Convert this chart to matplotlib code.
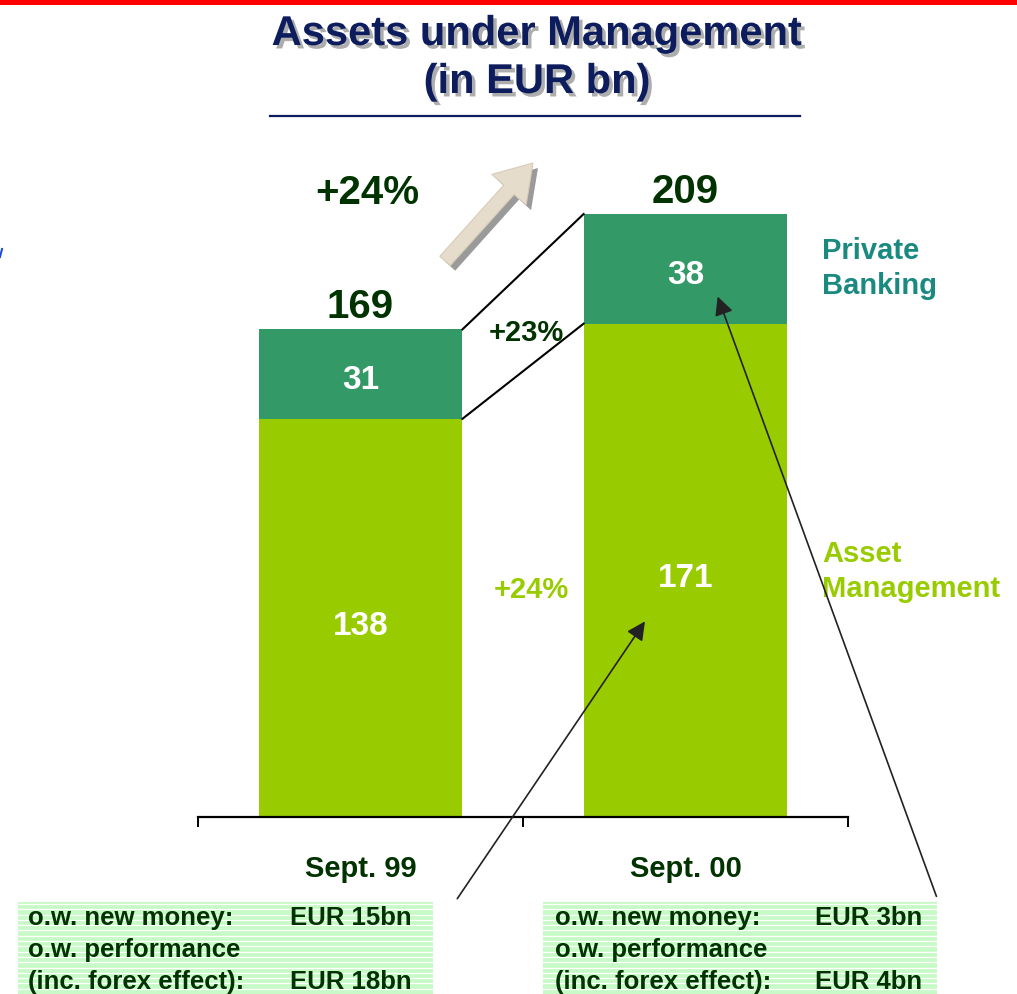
import matplotlib
matplotlib.use("Agg")
import matplotlib.pyplot as plt
import matplotlib.patheffects as pe
from matplotlib.patches import Rectangle, FancyArrow

plt.rcParams['font.family'] = ['Liberation Sans', 'DejaVu Sans']

# data
periods = ["Sept. 99", "Sept. 00"]
asset_mgmt = [138, 171]
private_banking = [31, 38]
growth_total = "+24%"
growth_pb = "+23%"
growth_am = "+24%"
box_rows = [
    [("o.w. new money:", "EUR 15bn"), ("o.w. performance", ""), ("(inc. forex effect):", "EUR 18bn")],
    [("o.w. new money:", "EUR 3bn"), ("o.w. performance", ""), ("(inc. forex effect):", "EUR 4bn")],
]

LIGHT = "#99cc00"
TEAL = "#339966"
DARK = "#003300"
NAVY = "#0c1c5c"

W, H = 1017, 995
fig = plt.figure(figsize=(W / 100, H / 100), dpi=100)

# main bar axes, pixel box x 198..848, y 118..818
ax = fig.add_axes([198 / W, (H - 818) / H, 650 / W, 700 / H])
ax.set_xlim(-0.5, 1.5)
ax.set_ylim(0, 700 / 2.885)
ax.patch.set_alpha(0)

x = [0, 1]
bw = 0.627
totals = [a + p for a, p in zip(asset_mgmt, private_banking)]
ax.bar(x, asset_mgmt, width=bw, color=LIGHT, zorder=2)
ax.bar(x, private_banking, width=bw, bottom=asset_mgmt, color=TEAL, zorder=2)

for i in x:
    ax.text(i, asset_mgmt[i] / 2 - 2.5, str(asset_mgmt[i]), color="white", fontsize=24,
            fontweight="bold", ha="center", va="center")
    ax.text(i, asset_mgmt[i] + private_banking[i] / 2 - 2, str(private_banking[i]), color="white",
            fontsize=24, fontweight="bold", ha="center", va="center")
    ax.text(i, totals[i] + 1.5, str(totals[i]), color=DARK, fontsize=29,
            fontweight="bold", ha="center", va="bottom")

# connector lines between bars
ax.plot([bw / 2, 1 - bw / 2], [totals[0], totals[1]], color="black", lw=1.5)
ax.plot([bw / 2, 1 - bw / 2], [asset_mgmt[0], asset_mgmt[1]], color="black", lw=1.5)

ax.text(0.02, 216.5, growth_total, color=DARK, fontsize=29, fontweight="bold",
        ha="center", va="center")
ax.text(0.51, 168, growth_pb, color=DARK, fontsize=21, fontweight="bold",
        ha="center", va="center")
ax.text(0.525, 79, growth_am, color=LIGHT, fontsize=21, fontweight="bold",
        ha="center", va="center")

ax.text(1.42, 190.5, "Private\nBanking", color="#1a8a80", fontsize=21, fontweight="bold",
        ha="left", va="center", linespacing=1.3)
ax.text(1.42, 85.5, "Asset\nManagement", color=LIGHT, fontsize=21, fontweight="bold",
        ha="left", va="center", linespacing=1.3)

# axes styling
for s in ["top", "right", "left"]:
    ax.spines[s].set_visible(False)
ax.spines["bottom"].set_linewidth(1.6)
ax.set_yticks([])
ax.set_xticks([-0.5, 0.5, 1.5])
ax.set_xticklabels([])
ax.tick_params(axis="x", which="major", direction="out", length=7, width=1.4)
ax.set_xticks(x, minor=True)
ax.set_xticklabels(periods, minor=True, fontsize=21, fontweight="bold", color=DARK)
ax.tick_params(axis="x", which="minor", length=0, pad=27)

# annotation arrows from the boxes into the bars
ax.annotate("", xy=(0.88, 68.6), xytext=(0.293, -29.1), annotation_clip=False,
            arrowprops=dict(arrowstyle="-|>", color="#222222", lw=1.2, mutation_scale=28))
ax.annotate("", xy=(1.096, 181.3), xytext=(1.775, -28.4), annotation_clip=False,
            arrowprops=dict(arrowstyle="-|>", color="#222222", lw=1.2, mutation_scale=28))

# decoration layer in pixel coordinates
deco = fig.add_axes([0, 0, 1, 1], zorder=-1)
deco.set_xlim(0, W)
deco.set_ylim(H, 0)
deco.axis("off")

deco.add_patch(Rectangle((0, 0), W, 6, color="#ff0000", lw=0))
deco.plot([270, 800], [117, 117], color=NAVY, lw=1.6)
deco.plot([0, 2], [258, 250], color="#1f4fd0", lw=1.5)

shadow = [pe.withSimplePatchShadow(offset=(2.5, -2.5), shadow_rgbFace="#999999", alpha=0.8)]
deco.text(537, 35, "Assets under Management", color=NAVY, fontsize=30, fontweight="bold",
          ha="center", va="center", path_effects=shadow)
deco.text(537, 83, "(in EUR bn)", color=NAVY, fontsize=30, fontweight="bold",
          ha="center", va="center", path_effects=shadow)

# beige growth arrow with shadow
deco.add_patch(FancyArrow(450, 267, 88, -98, width=14, head_width=46, head_length=36,
                          length_includes_head=True, color="#9a9a9a", lw=0))
deco.add_patch(FancyArrow(445, 262, 88, -98, width=14, head_width=46, head_length=36,
                          length_includes_head=True, facecolor="#e6dccb", edgecolor="#d8ccb8", lw=0.8))

# striped boxes
fig_ax = fig.add_axes([0, 0, 1, 1], zorder=5)
fig_ax.set_xlim(0, W)
fig_ax.set_ylim(H, 0)
fig_ax.axis("off")
boxes = [(18, 433, 28, 290), (543, 937, 555, 815)]
for (x0, x1, tx, vx), rows in zip(boxes, box_rows):
    fig_ax.add_patch(Rectangle((x0, 903), x1 - x0, H - 903, facecolor="#c8fac8", lw=0))
    yy = 905
    while yy < H:
        fig_ax.plot([x0, x1], [yy, yy], color="white", lw=0.9)
        yy += 5.3
    for k, (lab, val) in enumerate(rows):
        fig_ax.text(tx, 918 + 32 * k, lab, color=DARK, fontsize=18.5, fontweight="bold",
                    ha="left", va="center")
        if val:
            fig_ax.text(vx, 918 + 32 * k, val, color=DARK, fontsize=18.5, fontweight="bold",
                        ha="left", va="center")

fig.savefig("out.png", dpi=100)
